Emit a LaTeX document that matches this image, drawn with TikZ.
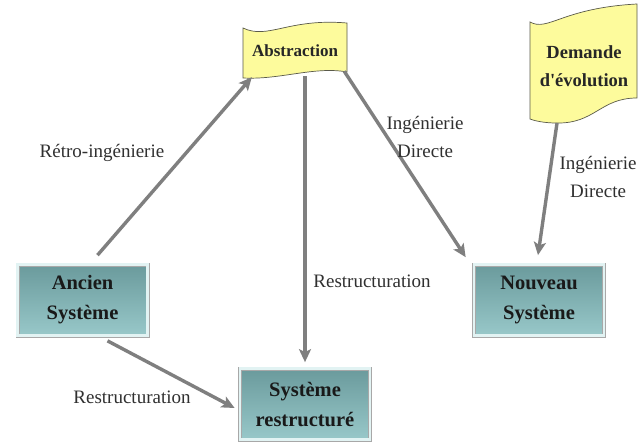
\documentclass[tikz,border=0pt]{standalone}
\usepackage{fontspec}
\setmainfont{Liberation Serif}[Ligatures=TeXOff]
\usetikzlibrary{arrows.meta,calc}
\definecolor{arrowgray}{HTML}{7F7F7F}
\definecolor{flagfill}{HTML}{FDFB9C}
\definecolor{flagedge}{HTML}{5A5A4A}
\definecolor{tealdark}{HTML}{6A9A9C}
\definecolor{teallight}{HTML}{C8ECEC}
\definecolor{tealmid}{HTML}{98C8C9}
\definecolor{framegray}{HTML}{A8A8A8}
\definecolor{bandcyan}{HTML}{E2F3F3}
\definecolor{labelgray}{HTML}{303030}
\begin{document}
\begin{tikzpicture}[x=1pt,y=-1pt,
  sysbox/.style={draw=framegray, double=bandcyan, double distance=2.6pt, line width=0.7pt,
    top color=tealdark, middle color=teallight, bottom color=tealmid,
    minimum width=130pt, minimum height=71pt, align=center, text=black!90,
    font=\fontsize{20.5}{30}\selectfont\bfseries},
  flagtext/.style={align=center, text=black!85, font=\bfseries},
  flag/.style={fill=flagfill, draw=flagedge, line width=0.7pt},
  link/.style={draw=arrowgray, line width=3.4pt, -{Stealth[length=13pt,width=12pt,inset=3pt]}},
  lbl/.style={align=center, text=labelgray, font=\fontsize{19}{28}\selectfont}]
\useasboundingbox[fill=white] (0,0) rectangle (639,446);

% banner shapes
\draw[flag] (243,28) .. controls (268,40) and (288,18) .. (347,23)
  -- (347,72) .. controls (315,66) and (280,80) .. (243,78) -- cycle;
\draw[flag] (530,22) .. controls (548,32) and (562,8) .. (637,4)
  -- (637,98) .. controls (600,98) and (595,124) .. (556,123)
  .. controls (545,123) and (535,121) .. (530,119) -- cycle;

% texts on the banners
\node[flagtext, font=\fontsize{17}{20}\selectfont\bfseries,
  minimum width=104pt, minimum height=50pt] (abs) at (295,51) {Abstraction};
\node[flagtext, font=\fontsize{18.5}{28}\selectfont\bfseries] (dem) at (584,66)
  {Demande\\d'évolution};

% systems
\node[sysbox] (ancien) at (82.5,300) {Ancien\\Système};
\node[sysbox] (restr) at (305,404) {Système\\restructuré};
\node[sysbox] (nouveau) at (539,300) {Nouveau\\Système};

% connectors
\draw[link] ($(ancien.north)+(15,-9)$) -- ($(abs.south west)+(9,1)$);
\draw[link, shorten >=6pt] (restr.north |- abs.south) -- (restr.north);
\draw[link] ($(abs.south east)+(-3,-5)$) -- ($(nouveau.north west)+(-8,-7)$);
\draw[link] ($(dem.center)+(-27,57)$) -- ($(nouveau.north)+(-1,-9)$);
\draw[link] ($(ancien.south)+(25,5)$) -- ($(restr.west)+(-5,4)$);

% connector labels
\node[lbl] (l1) at (102,153) {Rétro-ingénierie};
\node[lbl] (l2) at (372,281) {Restructuration};
\node[lbl] (l3) at (425,137) {Ingénierie\\Directe};
\node[lbl] (l4) at (598,177) {Ingénierie\\Directe};
\node[lbl] (l5) at (132,397) {Restructuration};
\end{tikzpicture}
\end{document}
